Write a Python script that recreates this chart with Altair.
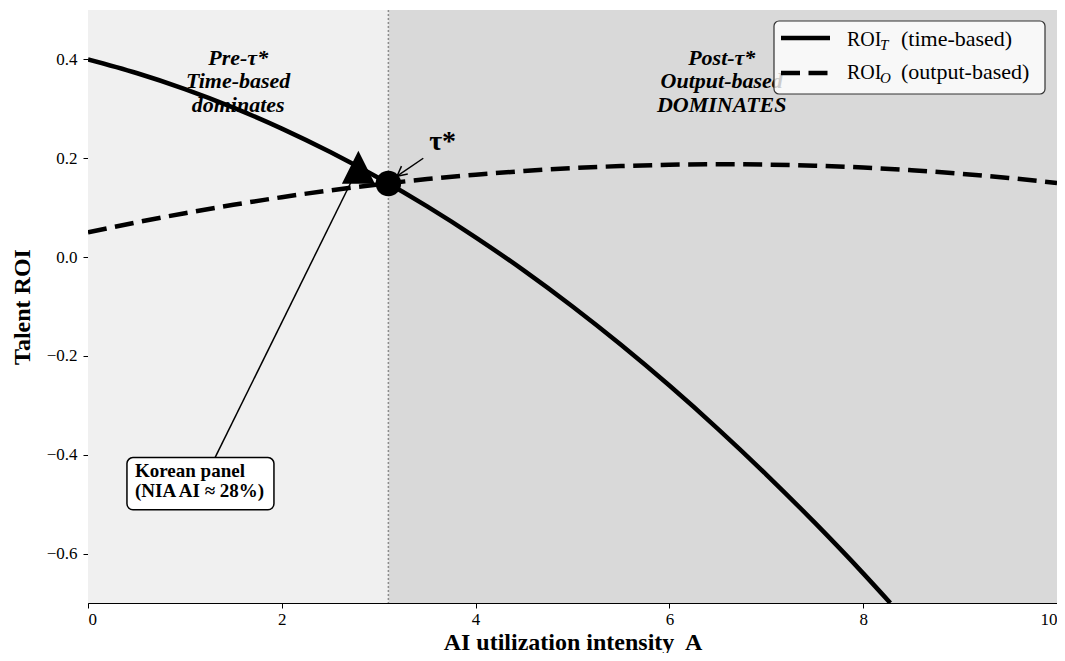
import altair as alt
import pandas as pd

# ---- data ----
A_T = [0.0, 0.5, 1.0, 1.5, 2.0, 2.5, 3.0, 3.5, 4.0, 4.5, 5.0, 5.5, 6.0, 6.5, 7.0, 7.5, 8.0, 8.28]
ROI_T = [0.400, 0.3725, 0.340, 0.3025, 0.260, 0.2125, 0.160, 0.1025, 0.040, -0.0275,
         -0.100, -0.1775, -0.260, -0.3475, -0.440, -0.5375, -0.640, -0.700]
A_O = [0.0, 0.5, 1.0, 1.5, 2.0, 2.5, 3.0, 3.5, 4.0, 4.5, 5.0, 5.5, 6.0, 6.5, 7.0,
       7.5, 8.0, 8.5, 9.0, 9.5, 10.0]
ROI_O = [0.050, 0.0702, 0.0888, 0.1058, 0.1212, 0.135, 0.1472, 0.1578, 0.1668, 0.1742,
         0.180, 0.1842, 0.1868, 0.1878, 0.1872, 0.185, 0.1812, 0.1758, 0.1688, 0.1602, 0.150]
TAU_STAR = [3.1, 0.149]
KOREAN = [2.79, 0.182]
REGION_X0 = [0.0, 3.1]
REGION_X1 = [3.1, 10.0]
REGION_COL = ["#f0f0f0", "#d9d9d9"]
X_TICKS = [0, 2, 4, 6, 8, 10]
Y_TICKS = [-0.6, -0.4, -0.2, 0.0, 0.2, 0.4]
X_TITLE = "AI utilization intensity\u00a0 A"
Y_TITLE = "Talent ROI"

FONT = "Liberation Serif"
XS = alt.Scale(domain=[0, 10], nice=False, zero=False)
YS = alt.Scale(domain=[-0.7, 0.5], nice=False, zero=False)
XA = alt.Axis(values=X_TICKS, format="d", labelPadding=3, titlePadding=3)
YA = alt.Axis(values=Y_TICKS, labelPadding=6, titlePadding=12,
              labelExpr="replace(format(datum.value, '.1f'), '-', '\u2212')")


def X(f="x"):
    return alt.X(f"{f}:Q", scale=XS, axis=XA, title=X_TITLE)


def Y(f="y"):
    return alt.Y(f"{f}:Q", scale=YS, axis=YA, title=Y_TITLE)


def pt(x, y):
    return pd.DataFrame({"x": [x], "y": [y]})


one = pd.DataFrame({"k": [0]})

regions = pd.DataFrame({"x": REGION_X0, "x2": REGION_X1, "y": [-0.7, -0.7],
                        "y2": [0.5, 0.5], "c": REGION_COL})
time_df = pd.DataFrame({"x": A_T, "y": ROI_T})
out_df = pd.DataFrame({"x": A_O, "y": ROI_O})

base = alt.Chart(regions).mark_rect().encode(
    x=X(), x2="x2:Q", y=Y(), y2="y2:Q", color=alt.Color("c:N", scale=None))

vline = alt.Chart(pd.DataFrame({"x": [TAU_STAR[0]]})).mark_rule(
    color="#8c8c8c", strokeWidth=1.5, strokeDash=[2, 2]).encode(x=X())

line_t = alt.Chart(time_df).mark_line(color="black", strokeWidth=4.5, interpolate="monotone",
                                      clip=True, strokeCap="butt").encode(x=X(), y=Y())

line_o = alt.Chart(out_df).mark_line(color="black", strokeWidth=4.5, interpolate="monotone",
                                     strokeDash=[19, 8.5], clip=True,
                                     strokeCap="butt").encode(x=X(), y=Y())

# annotation segments (data coordinates)
seg = pd.DataFrame({
    "x": [1.311, 3.460, 3.189, 3.189],
    "y": [-0.4058, 0.200, 0.1636, 0.1636],
    "x2": [2.724, 3.189, 3.235, 3.300],
    "y2": [0.1555, 0.1636, 0.1840, 0.1680],
})
segs = alt.Chart(seg).mark_rule(color="black", strokeWidth=1.5).encode(
    x=X(), y=Y(), x2="x2:Q", y2="y2:Q")

circle = alt.Chart(pt(*TAU_STAR)).mark_circle(color="black", size=650, opacity=1).encode(
    x=X(), y=Y())

tri = alt.Chart(pt(*KOREAN)).mark_point(shape="M0,-1L-1,1L1,1Z", filled=True, color="black",
                                        size=1089, opacity=1).encode(x=X(), y=Y())

pre_txt = alt.Chart(pt(1.55, 0.3885)).mark_text(
    text=["Pre-τ*", "Time-based", "dominates"], font=FONT, fontSize=22, fontStyle="italic",
    fontWeight="bold", lineHeight=23.3, align="center", baseline="alphabetic",
    color="black").encode(x=X(), y=Y())

post_txt = alt.Chart(pt(6.54, 0.3885)).mark_text(
    text=["Post-τ*", "Output-based", "DOMINATES"], font=FONT, fontSize=22, fontStyle="italic",
    fontWeight="bold", lineHeight=23.3, align="center", baseline="alphabetic",
    color="black").encode(x=X(), y=Y())

tau_txt = alt.Chart(pt(3.66, 0.2163)).mark_text(
    text="τ*", font=FONT, fontSize=28, fontWeight="bold", align="center",
    baseline="alphabetic", color="black").encode(x=X(), y=Y())

kbox = alt.Chart(pd.DataFrame({"x": [0.402], "x2": [1.919], "y": [-0.4058], "y2": [-0.5112]})
                 ).mark_rect(fill="white", stroke="black", strokeWidth=1.5,
                             cornerRadius=6).encode(x=X(), x2="x2:Q", y=Y(), y2="y2:Q")

ktxt = alt.Chart(pt(0.485, -0.4457)).mark_text(
    text=["Korean panel", "(NIA AI ≈ 28%)"], font=FONT, fontSize=19, fontWeight="bold",
    lineHeight=20, align="left", baseline="alphabetic", color="black").encode(x=X(), y=Y())

# legend box (pixel positions inside the plot area)
leg_box = alt.Chart(one).mark_rect(fill="white", fillOpacity=0.8, stroke="#333333",
                                   strokeWidth=1.2, cornerRadius=5).encode(
    x=alt.value(686), x2=alt.value(957), y=alt.value(11), y2=alt.value(84))
leg_l1 = alt.Chart(one).mark_rule(color="black", strokeWidth=4.5).encode(
    x=alt.value(693), x2=alt.value(742), y=alt.value(28))
leg_l2 = alt.Chart(one).mark_rule(color="black", strokeWidth=4.5, strokeDash=[19, 8.5]).encode(
    x=alt.value(693), x2=alt.value(742), y=alt.value(63))


def ltext(t, x, y, size, style="normal"):
    return alt.Chart(one).mark_text(text=t, font=FONT, fontSize=size, fontStyle=style,
                                    align="left", baseline="alphabetic",
                                    color="black").encode(x=alt.value(x), y=alt.value(y))


leg_txt = [
    ltext("ROI", 759, 36, 20), ltext("T", 792, 40, 15, "italic"),
    ltext("(time-based)", 813, 36, 22),
    ltext("ROI", 759, 69, 20), ltext("O", 792, 73, 15, "italic"),
    ltext("(output-based)", 813, 69, 22),
]

chart = alt.layer(
    base, vline, line_t, line_o, segs, circle, tri, pre_txt, post_txt, tau_txt,
    kbox, ktxt, leg_box, leg_l1, leg_l2, *leg_txt
).properties(
    width=969, height=593,
    autosize=alt.AutoSizeParams(type="none"),
    padding={"left": 80, "top": 2, "right": 0, "bottom": 50},
    background="white",
).configure_view(stroke=None).configure_text(font=FONT).configure_axis(
    labelFont=FONT, titleFont=FONT, labelFontSize=17, titleFontSize=24,
    titleFontWeight="bold", tickSize=5, grid=False, domainColor="black",
    tickColor="black", labelColor="black", titleColor="black", domainWidth=1,
    tickWidth=1,
)

chart.save("out.html", embed_options={"renderer": "svg", "actions": False})
